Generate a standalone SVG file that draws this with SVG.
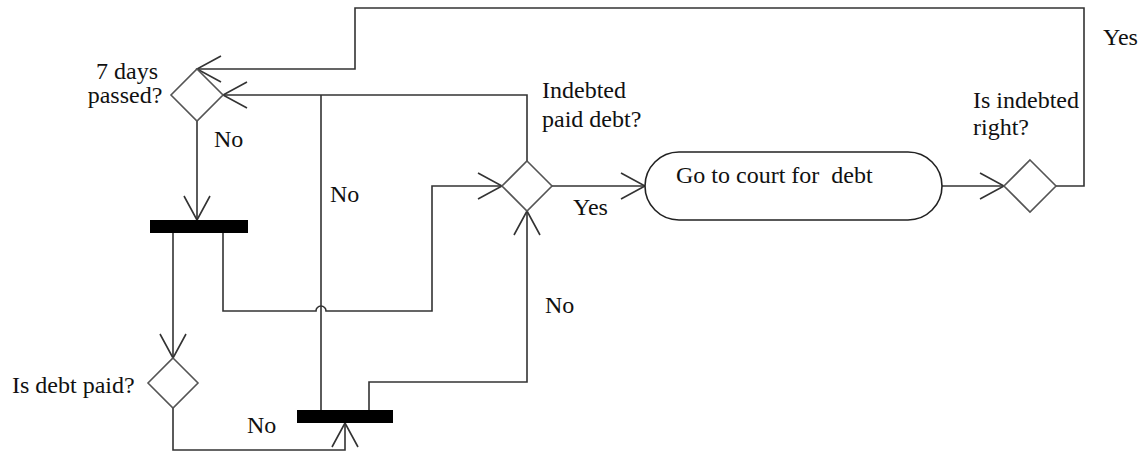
<svg xmlns="http://www.w3.org/2000/svg" width="1143" height="454" viewBox="0 0 1143 454">
<style>
  .bg{fill:#ffffff}
  .dia{fill:#ffffff;stroke:#555555;stroke-width:1.6}
  .bar{fill:#000000}
  .oval{fill:#ffffff;stroke:#222222;stroke-width:1.6}
  .con{fill:none;stroke:#333333;stroke-width:1.6}
  .t{font-family:"Liberation Serif","Times New Roman",serif;font-size:24px;fill:#111111;white-space:pre}
</style>
<defs>
  <marker id="arr" markerUnits="userSpaceOnUse" viewBox="-27 -15 29 30" markerWidth="29" markerHeight="30" refX="0" refY="0" orient="auto" overflow="visible">
    <path d="M-24,-13 L0,0 L-24,13" fill="none" stroke="#333333" stroke-width="1.6"/>
  </marker>
</defs>
<rect class="bg" x="0" y="0" width="1143" height="454"/>
<g id="connectors">
  <path class="con" d="M1056,186 H1084 V8 H355 V69 H197" marker-end="url(#arr)"/>
  <path class="con" d="M527,161 V95 H223" marker-end="url(#arr)"/>
  <path class="con" d="M321,410 V95"/>
  <path class="con" d="M197,121 V220" marker-end="url(#arr)"/>
  <path class="con" d="M173,233 V358" marker-end="url(#arr)"/>
  <path class="con" d="M223,233 V311 H316 A5,5 0 0 1 326,311 H432 V186 H502" marker-end="url(#arr)"/>
  <path class="con" d="M552,186 H645" marker-end="url(#arr)"/>
  <path class="con" d="M942,186 H1004" marker-end="url(#arr)"/>
  <path class="con" d="M173,408 V450 H345 V423" marker-end="url(#arr)"/>
  <path class="con" d="M369,410 V382 H527 V211" marker-end="url(#arr)"/>
  <text class="t" x="214" y="147">No</text>
  <text class="t" x="330" y="202">No</text>
  <text class="t" x="573" y="215">Yes</text>
  <text class="t" x="545" y="313">No</text>
  <text class="t" x="247" y="433">No</text>
  <text class="t" x="1103" y="45">Yes</text>
</g>
<g id="days-passed">
  <polygon class="dia" points="197,69 223,95 197,121 171,95"/>
  <text class="t" x="127" y="79" text-anchor="middle">7 days</text>
  <text class="t" x="125" y="103" text-anchor="middle">passed?</text>
</g>
<g id="fork-bar">
  <rect class="bar" x="150" y="220" width="98" height="13"/>
</g>
<g id="debt-paid">
  <polygon class="dia" points="173,358 198,383 173,408 148,383"/>
  <text class="t" x="12" y="393">Is debt paid?</text>
</g>
<g id="join-bar">
  <rect class="bar" x="297" y="410" width="96" height="13"/>
</g>
<g id="indebted-paid">
  <polygon class="dia" points="527,161 552,186 527,211 502,186"/>
  <text class="t" x="542" y="98">Indebted</text>
  <text class="t" x="542" y="127">paid debt?</text>
</g>
<g id="court">
  <rect class="oval" x="645" y="152" width="297" height="68" rx="34" ry="34"/>
  <text class="t" x="676" y="183">Go to court for  debt</text>
</g>
<g id="indebted-right">
  <polygon class="dia" points="1030,160 1056,186 1030,212 1004,186"/>
  <text class="t" x="973" y="108">Is indebted</text>
  <text class="t" x="973" y="135">right?</text>
</g>
</svg>
